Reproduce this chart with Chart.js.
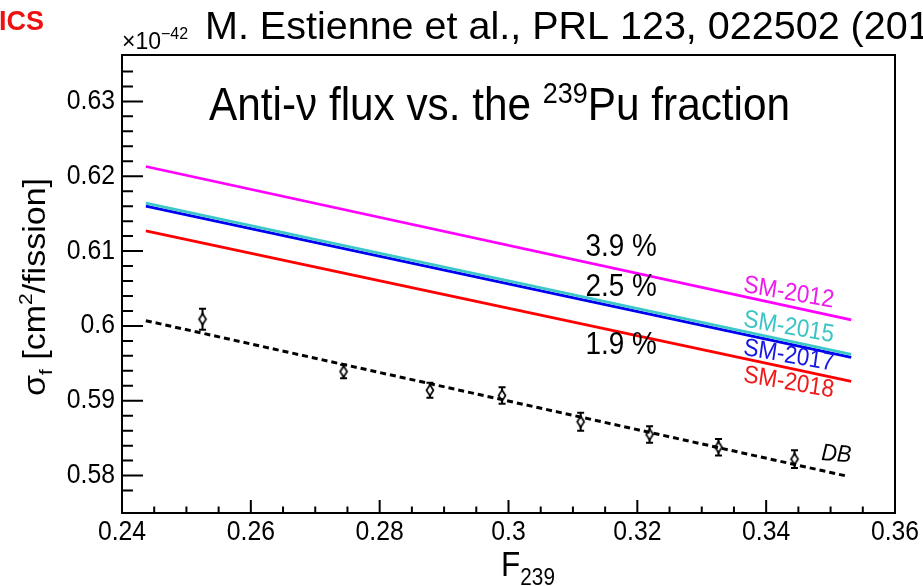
<!DOCTYPE html>
<html>
<head>
<meta charset="utf-8">
<script src="https://cdn.jsdelivr.net/npm/chart.js@4.4.1/dist/chart.umd.min.js"></script>
<style>
  html, body { margin: 0; padding: 0; background: #fff; }
</style>
</head>
<body>
<canvas id="c" width="923" height="586"></canvas>
<script>
const FONT = '"Liberation Sans", Arial, Helvetica, sans-serif';
const SQ = 0.9; // the plot is a bit squeezed sideways

// Daya Bay groups: F239 fraction and measured sigma_f (x 1e-42 cm2/fission)
const dbF239 = [0.2525, 0.2744, 0.2878, 0.2990, 0.3112, 0.3219, 0.3326, 0.3444];
const dbSigma = [0.6009, 0.5939, 0.5914, 0.5907, 0.5872, 0.5855, 0.5838, 0.5822];
const dbErr = [0.0014, 0.0009, 0.0010, 0.0011, 0.0012, 0.0011, 0.0011, 0.0012];

// model lines, values at both ends of the drawn F239 range
const lineF239 = [0.2437, 0.3532];
const sm2012 = [0.6213, 0.6008];
const sm2015 = [0.6164, 0.5962];
const sm2017 = [0.6160, 0.5958];
const sm2018 = [0.6127, 0.5926];
const fitF239 = [0.2437, 0.3527];
const dbFit = [0.6007, 0.5799];

const xLabels = [0.24, 0.26, 0.28, 0.3, 0.32, 0.34, 0.36];
const yLabels = [0.58, 0.59, 0.6, 0.61, 0.62, 0.63];

const pts = (xs, ys) => xs.map((x, i) => ({ x, y: ys[i] }));
const onStep = (v, step) => Math.abs(v / step - Math.round(v / step)) < 1e-6;
const labelFor = (list) => (v) => {
    const hit = list.find(t => Math.abs(t - v) < 1e-9);
    return hit === undefined ? '' : String(hit);
};

function diamond() {
    const c = document.createElement('canvas');
    c.width = 12; c.height = 16;
    const g = c.getContext('2d');
    g.beginPath();
    g.moveTo(6, 2.5); g.lineTo(9.5, 8); g.lineTo(6, 13.5); g.lineTo(2.5, 8); g.closePath();
    g.fillStyle = '#fff'; g.fill();
    g.lineWidth = 1.7; g.strokeStyle = '#000'; g.stroke();
    return c;
}

function lineSet(label, data, color, extra) {
    return Object.assign({
        label, data, borderColor: color, backgroundColor: color,
        borderWidth: 2.8, pointRadius: 0, showLine: true, fill: false, tension: 0
    }, extra || {});
}

// runs of text (for sub/superscripts); origin at (x, y), squeezed by sx, turned by angle
function drawRuns(ctx, runs, x, y, opts) {
    const o = Object.assign({ align: 'left', sx: 1, angle: 0, baseline: 'alphabetic' }, opts || {});
    const fontOf = r => (r.style || '') + ' ' + r.size + 'px ' + FONT;
    let total = 0;
    runs.forEach(r => { ctx.font = fontOf(r); total += ctx.measureText(r.t).width; });
    ctx.save();
    ctx.translate(x, y);
    ctx.scale(o.sx, 1);
    ctx.rotate(o.angle);
    let cx = o.align === 'center' ? -total / 2 : (o.align === 'right' ? -total : 0);
    ctx.textAlign = 'left';
    ctx.textBaseline = o.baseline;
    runs.forEach(r => {
        ctx.font = fontOf(r);
        ctx.fillText(r.t, cx, r.dy || 0);
        cx += ctx.measureText(r.t).width;
    });
    ctx.restore();
}

const errorBars = {
    id: 'errorBars',
    beforeDatasetDraw(chart, args) {
        const ds = chart.data.datasets[args.index];
        if (!ds.errors) return;
        const { ctx, scales: { x, y } } = chart;
        ctx.save();
        ctx.strokeStyle = '#000';
        ctx.lineWidth = 2;
        ds.data.forEach((p, i) => {
            const px = x.getPixelForValue(p.x);
            const top = y.getPixelForValue(p.y + ds.errors[i]);
            const bot = y.getPixelForValue(p.y - ds.errors[i]);
            ctx.beginPath();
            ctx.moveTo(px, top); ctx.lineTo(px, bot);
            ctx.moveTo(px - 3.5, top); ctx.lineTo(px + 3.5, top);
            ctx.moveTo(px - 3.5, bot); ctx.lineTo(px + 3.5, bot);
            ctx.stroke();
        });
        ctx.restore();
    }
};

// ROOT style box: ticks inside the frame, labels squeezed like the rest
const frame = {
    id: 'frame',
    afterDraw(chart) {
        const { ctx, chartArea: a, scales: { x, y } } = chart;
        ctx.save();
        ctx.strokeStyle = '#000';
        ctx.lineWidth = 2;
        ctx.strokeRect(a.left, a.top, a.right - a.left, a.bottom - a.top);
        ctx.beginPath();
        x.ticks.forEach(t => {
            if (!onStep(t.value, 0.005)) return;
            const px = x.getPixelForValue(t.value);
            ctx.moveTo(px, a.bottom);
            ctx.lineTo(px, a.bottom - (onStep(t.value, 0.02) ? 13 : 6.5));
        });
        y.ticks.forEach(t => {
            if (!onStep(t.value, 0.002)) return;
            const py = y.getPixelForValue(t.value);
            ctx.moveTo(a.left, py);
            ctx.lineTo(a.left + (onStep(t.value, 0.01) ? 21 : 11), py);
        });
        ctx.stroke();

        ctx.fillStyle = '#000';
        const xl = labelFor(xLabels), yl = labelFor(yLabels);
        x.ticks.forEach(t => {
            const s = xl(t.value);
            if (s) drawRuns(ctx, [{ t: s, size: 27.5 }], x.getPixelForValue(t.value), a.bottom + 27, { align: 'center', sx: SQ });
        });
        y.ticks.forEach(t => {
            const s = yl(t.value);
            if (s) drawRuns(ctx, [{ t: s, size: 27.5 }], a.left - 7, y.getPixelForValue(t.value), { align: 'right', sx: SQ, baseline: 'middle' });
        });
        ctx.restore();
    }
};

const texts = {
    id: 'texts',
    afterDraw(chart) {
        const { ctx, scales: { x, y } } = chart;
        ctx.save();
        ctx.fillStyle = '#ee1111';
        drawRuns(ctx, [{ t: 'ICS', size: 27, style: 'bold' }], -1, 30);
        ctx.fillStyle = '#000';
        drawRuns(ctx, [{ t: 'M. Estienne et al., PRL 123, 022502 (2019)', size: 39.5 }], 205, 39);
        drawRuns(ctx, [{ t: '\u00d710', size: 23 }, { t: '\u221242', size: 16, dy: -10 }], 122, 49);
        drawRuns(ctx, [
            { t: 'Anti-\u03bd flux vs. the ', size: 47 },
            { t: '239', size: 30, dy: -17 },
            { t: 'Pu fraction', size: 47 }
        ], 209, 120, { sx: SQ });

        // percent labels
        [['3.9 %', 0.6105], ['2.5 %', 0.6052], ['1.9 %', 0.5974]].forEach(([t, v]) => {
            drawRuns(ctx, [{ t, size: 31 }], x.getPixelForValue(0.3175), y.getPixelForValue(v),
                { align: 'center', sx: SQ, baseline: 'middle' });
        });

        // model tags, tilted along the lines
        [['SM-2012', 0.6044, '#ee1bee'], ['SM-2015', 0.5998, '#3cc4c4'],
         ['SM-2017', 0.5960, '#1515e6'], ['SM-2018', 0.5924, '#f01818']].forEach(([t, v, c]) => {
            ctx.fillStyle = c;
            drawRuns(ctx, [{ t, size: 25 }], x.getPixelForValue(0.3435), y.getPixelForValue(v),
                { align: 'center', sx: SQ, baseline: 'middle', angle: 9 * Math.PI / 180 });
        });
        ctx.fillStyle = '#000';
        drawRuns(ctx, [{ t: 'DB', size: 24, style: 'italic' }], x.getPixelForValue(0.3509), y.getPixelForValue(0.5828),
            { align: 'center', sx: SQ, baseline: 'middle', angle: 4 * Math.PI / 180 });

        // axis titles
        drawRuns(ctx, [{ t: 'F', size: 35 }, { t: '239', size: 23, dy: 9 }], 528, 576, { align: 'center', sx: SQ });
        ctx.save();
        ctx.translate(45, 287);
        ctx.scale(SQ, 1);
        ctx.rotate(-Math.PI / 2);
        drawRuns(ctx, [
            { t: '\u03c3', size: 34 }, { t: 'f', size: 21, dy: 8 },
            { t: ' [cm', size: 34 }, { t: '2', size: 21, dy: -14 },
            { t: '/fission]', size: 34 }
        ], 0, 0, { align: 'center' });
        ctx.restore();
        ctx.restore();
    }
};

new Chart(document.getElementById('c'), {
    type: 'scatter',
    data: {
        datasets: [
            lineSet('DB fit', pts(fitF239, dbFit), '#000', { borderWidth: 3, borderDash: [6, 4] }),
            lineSet('SM-2012', pts(lineF239, sm2012), '#f0f'),
            lineSet('SM-2015', pts(lineF239, sm2015), '#3cc8c8'),
            lineSet('SM-2017', pts(lineF239, sm2017), '#0000f0'),
            lineSet('SM-2018', pts(lineF239, sm2018), '#f00'),
            {
                label: 'DB',
                data: pts(dbF239, dbSigma),
                errors: dbErr,
                pointStyle: diamond(),
                pointRadius: 6,
                showLine: false
            }
        ]
    },
    options: {
        responsive: false,
        animation: false,
        devicePixelRatio: 1,
        layout: { padding: { top: 55, right: 28, left: 0, bottom: 0 } },
        plugins: { legend: { display: false }, tooltip: { enabled: false } },
        scales: {
            x: {
                type: 'linear',
                min: 0.24,
                max: 0.36,
                afterFit: s => { s.height = 73; },
                grid: { display: false, drawTicks: false },
                border: { display: false },
                ticks: { display: false, stepSize: 0.005, autoSkip: false, maxRotation: 0 }
            },
            y: {
                type: 'linear',
                min: 0.575,
                max: 0.6362,
                afterFit: s => { s.width = 122; },
                grid: { display: false, drawTicks: false },
                border: { display: false },
                ticks: { display: false, stepSize: 0.002, autoSkip: false }
            }
        }
    },
    plugins: [errorBars, frame, texts]
});
</script>
</body>
</html>
